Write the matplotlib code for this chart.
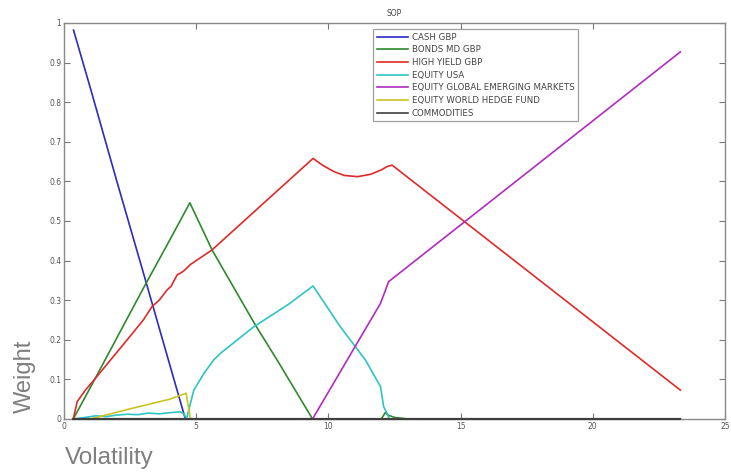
import matplotlib
matplotlib.use("Agg")
import matplotlib.pyplot as plt

# ---- data ----
cash_x = [0.36, 0.5, 1.0, 2.0, 3.08, 4.0, 4.59]
cash_y = [0.982, 0.95, 0.835, 0.60, 0.351, 0.137, 0.0]

bonds_x = [0.35, 1.0, 2.0, 3.0, 4.0, 4.76, 5.6, 7.24, 8.06, 9.4, 12.0, 12.15, 12.25, 12.5, 13.0, 23.3]
bonds_y = [0.0, 0.08, 0.205, 0.33, 0.452, 0.546, 0.427, 0.237, 0.149, 0.0, 0.0, 0.016, 0.01, 0.004, 0.0, 0.0]

hy_x = [0.35, 0.5, 0.81, 1.13, 1.76, 2.39, 3.0, 3.33, 3.6, 3.9, 4.05, 4.28, 4.4, 4.55, 4.78,
        5.6, 7.5, 9.42, 9.8, 10.2, 10.6, 11.1, 11.6, 12.0, 12.2, 12.41, 23.31]
hy_y = [0.0, 0.044, 0.073, 0.098, 0.149, 0.20, 0.25, 0.284, 0.30, 0.326, 0.335, 0.364, 0.368, 0.375, 0.39,
        0.427, 0.542, 0.658, 0.64, 0.625, 0.615, 0.612, 0.618, 0.629, 0.637, 0.641, 0.073]

usa_x = [0.35, 0.8, 1.2, 1.6, 2.0, 2.4, 2.8, 3.2, 3.6, 4.0, 4.4, 4.54, 4.6, 4.63, 4.72, 4.91, 5.29, 5.66,
         5.92, 7.18, 8.5, 9.42, 10.45, 11.4, 11.97, 12.09, 12.22, 12.3, 23.3]
usa_y = [0.0, 0.004, 0.008, 0.006, 0.010, 0.012, 0.011, 0.015, 0.013, 0.016, 0.018, 0.013, 0.004, 0.0, 0.023, 0.073, 0.115, 0.149,
         0.166, 0.233, 0.29, 0.336, 0.233, 0.149, 0.082, 0.031, 0.014, 0.0, 0.0]

gem_x = [0.35, 9.4, 11.97, 12.28, 23.31]
gem_y = [0.0, 0.0, 0.292, 0.347, 0.927]

hedge_x = [0.35, 1.0, 2.64, 4.0, 4.62, 4.78, 23.3]
hedge_y = [0.0, 0.0, 0.028, 0.05, 0.065, 0.0, 0.0]

comm_x = [0.35, 23.3]
comm_y = [0.0, 0.0]

labels = ["CASH GBP", "BONDS MD GBP", "HIGH YIELD GBP", "EQUITY USA",
          "EQUITY GLOBAL EMERGING MARKETS", "EQUITY WORLD HEDGE FUND", "COMMODITIES"]
x_ticks = [0, 5, 10, 15, 20, 25]
y_ticks = [0, 0.1, 0.2, 0.3, 0.4, 0.5, 0.6, 0.7, 0.8, 0.9, 1]
y_ticklabels = ["0", "0.1", "0.2", "0.3", "0.4", "0.5", "0.6", "0.7", "0.8", "0.9", "1"]

colors = ["#2b2bc0", "#2e8a2e", "#e02a2a", "#2ec4c4", "#b02cc0", "#c8c422", "#404040"]

fig = plt.figure(figsize=(7.31, 4.72), dpi=100)
ax = fig.add_axes([64 / 731, 53 / 472, 661 / 731, 396 / 472])

series = [(cash_x, cash_y), (bonds_x, bonds_y), (hy_x, hy_y), (usa_x, usa_y),
          (gem_x, gem_y), (hedge_x, hedge_y), (comm_x, comm_y)]
for i, ((xs, ys), lab, c) in enumerate(zip(series, labels, colors)):
    lw = 1.6 if lab == "COMMODITIES" else 1.2
    ax.plot(xs, ys, color=c, lw=lw, label=lab, zorder=3 + i, clip_on=False)

ax.set_xlim(0, 25)
ax.set_ylim(0, 1)
ax.set_xticks(x_ticks)
ax.set_xticklabels([str(t) for t in x_ticks])
ax.set_yticks(y_ticks)
ax.set_yticklabels(y_ticklabels)
ax.tick_params(direction="in", length=4, width=0.8, color="#777777", labelsize=5.5,
               labelcolor="#555555", top=True, right=True, pad=2)
for s in ax.spines.values():
    s.set_color("#8a8a8a")
    s.set_linewidth(1.0)

ax.set_title("SOP", fontsize=5.5, color="#444444", pad=5)

leg = ax.legend(loc="upper left", bbox_to_anchor=(0.468, 0.985), fontsize=6.2,
                frameon=True, fancybox=False, edgecolor="#888888", handlelength=3.6,
                labelspacing=0.42, borderpad=0.45, handletextpad=0.4, borderaxespad=0)
leg.get_frame().set_linewidth(0.9)
for h in leg.get_lines():
    h.set_linewidth(1.2)
for t in leg.get_texts():
    t.set_color("#444444")

fig.text(25 / 731, 1 - 376 / 472, "Weight", rotation=90, fontsize=17, color="#7f7f7f",
         ha="center", va="center", family="Liberation Sans")
fig.text(65 / 731, 1 - 458 / 472, "Volatility", fontsize=17.5, color="#7f7f7f",
         ha="left", va="center", family="Liberation Sans")

fig.savefig("out.png", dpi=100)
